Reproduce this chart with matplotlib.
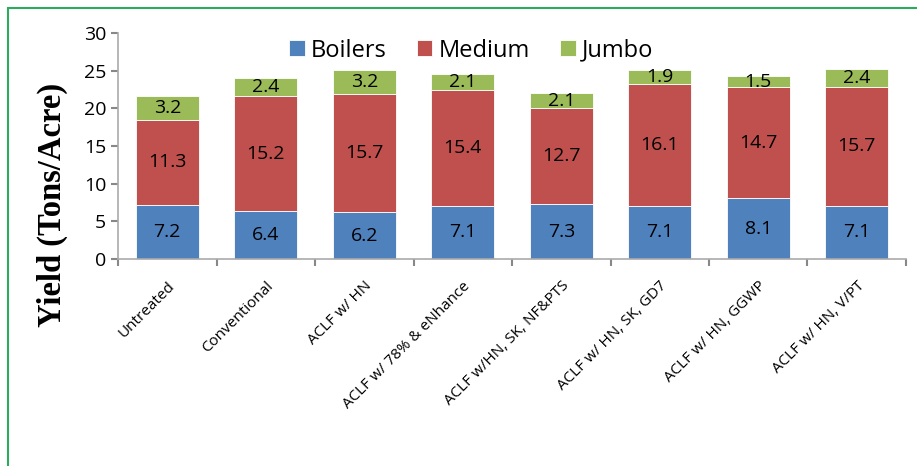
import matplotlib.pyplot as plt
from matplotlib.patches import Rectangle
import numpy as np

# Treatments
treatments = ['Untreated', 'Conventional', 'ACLF w/ HN', 'ACLF w/ 78% & eNhance',
              'ACLF w/HN, SK, NF&PTS', 'ACLF w/ HN, SK, GD7', 'ACLF w/ HN, GGWP',
              'ACLF w/ HN, V/PT']

# Yield by size class (tons/acre)
boilers = [7.2, 6.4, 6.2, 7.1, 7.3, 7.1, 8.1, 7.1]
medium = [11.3, 15.2, 15.7, 15.4, 12.7, 16.1, 14.7, 15.7]
jumbo = [3.2, 2.4, 3.2, 2.1, 2.1, 1.9, 1.5, 2.4]

colors = ['#4F81BD', '#C0504D', '#9BBB59']

plt.rcParams['font.family'] = ['Open Sans', 'DejaVu Sans']

fig = plt.figure(figsize=(9.17, 4.66), dpi=100)
ax = fig.add_axes([0.1287, 0.444, 0.988 - 0.1287, 0.929 - 0.444])

x = np.arange(len(treatments))
b1 = ax.bar(x, boilers, width=0.64, color=colors[0], edgecolor='white', linewidth=0.6, label='Boilers')
b2 = ax.bar(x, medium, width=0.64, bottom=boilers, color=colors[1], edgecolor='white', linewidth=0.6, label='Medium')
bottom2 = np.array(boilers) + np.array(medium)
b3 = ax.bar(x, jumbo, width=0.64, bottom=bottom2, color=colors[2], edgecolor='white', linewidth=0.6, label='Jumbo')

# value labels in the middle of each segment
for bars, vals in [(b1, boilers), (b2, medium), (b3, jumbo)]:
    ax.bar_label(bars, labels=[f'{v}' for v in vals], label_type='center', fontsize=14)

ax.set_xlim(-0.5, len(treatments) - 0.5)
ax.set_ylim(0, 30)
ax.set_yticks(range(0, 31, 5))
ax.tick_params(axis='y', labelsize=14, color='#888888', length=5, width=1.5)

ax.set_xticks(x)
ax.set_xticklabels(treatments, rotation=45, ha='right', rotation_mode='anchor', fontsize=11)
ax.tick_params(axis='x', length=0, pad=14)
ax.set_xticks(np.arange(-0.5, len(treatments)), minor=True)
ax.tick_params(axis='x', which='minor', length=5, width=1.5, color='#888888')

for s in ['top', 'right']:
    ax.spines[s].set_visible(False)
for s in ['left', 'bottom']:
    ax.spines[s].set_color('#aaaaaa')
    ax.spines[s].set_linewidth(1.2)

ax.set_ylabel('Yield (Tons/Acre)', fontsize=23.5, fontweight='bold',
              family=['Liberation Serif', 'DejaVu Serif'])
ax.yaxis.set_label_coords(-0.0635, 0.239)

ax.legend(loc='upper center', bbox_to_anchor=(0.448, 1.07), ncol=3, frameon=False,
          fontsize=17, handlelength=0.65, handleheight=0.65, handletextpad=0.25, columnspacing=1.3)

# green border around the chart area
fig.patches.append(Rectangle((8 / 917, -0.05), 1.0, 1 - 8 / 466 + 0.05, transform=fig.transFigure,
                             fill=False, edgecolor='#2EAA5C', linewidth=1.5))

fig.savefig('out.png', dpi=100)
